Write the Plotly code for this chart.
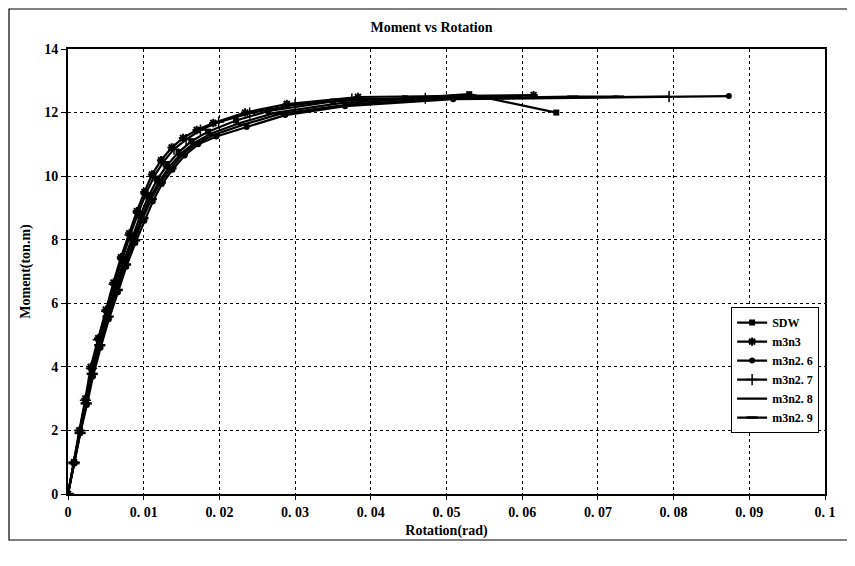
import plotly.graph_objects as go

# ---- data ----
sdw_x = [0, 0.0008, 0.0016, 0.0024, 0.0031, 0.0041, 0.0052, 0.0063, 0.0074, 0.0085, 0.0096, 0.0107,
         0.0118, 0.0131, 0.0146, 0.0163, 0.0185, 0.0222, 0.0265, 0.035, 0.0445, 0.053, 0.0645]
sdw_y = [0, 1.0, 2.0, 2.95, 3.95, 4.8, 5.7, 6.55, 7.35, 8.1, 8.8, 9.4,
         9.9, 10.35, 10.75, 11.1, 11.4, 11.75, 12.05, 12.35, 12.45, 12.58, 12.0]

m3n3_x = [0, 0.0008, 0.0015, 0.0023, 0.003, 0.004, 0.005, 0.006, 0.007, 0.0081, 0.0091, 0.0101,
          0.0111, 0.0123, 0.0137, 0.0152, 0.017, 0.0192, 0.0234, 0.0289, 0.0383, 0.0615]
m3n3_y = [0, 1.0, 2.0, 3.0, 4.0, 4.9, 5.8, 6.65, 7.45, 8.2, 8.9, 9.5,
          10.05, 10.5, 10.9, 11.2, 11.45, 11.67, 12.0, 12.27, 12.49, 12.55]

m3n26_x = [0, 0.0008, 0.0016, 0.0025, 0.0033, 0.0043, 0.0054, 0.0066, 0.0077, 0.0089, 0.0101, 0.0112,
           0.0124, 0.0138, 0.0154, 0.0172, 0.0196, 0.0236, 0.0287, 0.0366, 0.0509, 0.0873]
m3n26_y = [0, 0.95, 1.9, 2.8, 3.7, 4.6, 5.5, 6.35, 7.15, 7.9, 8.6, 9.2,
           9.75, 10.2, 10.65, 11.0, 11.25, 11.55, 11.92, 12.2, 12.42, 12.52]

m3n27_x = [0, 0.0008, 0.0016, 0.0023, 0.0031, 0.004, 0.0051, 0.0061, 0.0072, 0.0082, 0.0093, 0.0103,
           0.0114, 0.0126, 0.014, 0.0156, 0.0175, 0.0199, 0.024, 0.03, 0.0375, 0.0472, 0.0794]
m3n27_y = [0, 1.0, 2.0, 2.95, 3.95, 4.85, 5.75, 6.6, 7.4, 8.15, 8.85, 9.45,
           10.0, 10.45, 10.85, 11.15, 11.45, 11.7, 11.98, 12.25, 12.42, 12.45, 12.5]

m3n28_x = [0, 0.0008, 0.0016, 0.0024, 0.0032, 0.0042, 0.0053, 0.0064, 0.0075, 0.0087, 0.0098, 0.0109,
           0.0121, 0.0134, 0.0149, 0.0167, 0.019, 0.0228, 0.0275, 0.036, 0.047, 0.06]
m3n28_y = [0, 0.98, 1.95, 2.9, 3.85, 4.75, 5.65, 6.5, 7.3, 8.05, 8.75, 9.35,
           9.85, 10.3, 10.7, 11.05, 11.35, 11.68, 12.0, 12.3, 12.45, 12.5]

m3n29_x = [0, 0.0008, 0.0016, 0.0024, 0.0032, 0.0042, 0.0053, 0.0065, 0.0076, 0.0088, 0.0099, 0.011,
           0.0122, 0.0136, 0.0151, 0.0169, 0.0193, 0.0232, 0.028, 0.037, 0.05, 0.0667, 0.0727]
m3n29_y = [0, 0.97, 1.92, 2.85, 3.78, 4.68, 5.58, 6.42, 7.22, 7.98, 8.68, 9.28,
           9.8, 10.25, 10.68, 11.02, 11.3, 11.62, 11.96, 12.25, 12.45, 12.5, 12.5]

x_ticks = [0, 0.01, 0.02, 0.03, 0.04, 0.05, 0.06, 0.07, 0.08, 0.09, 0.1]
x_tick_labels = ["0", "0. 01", "0. 02", "0. 03", "0. 04", "0. 05", "0. 06", "0. 07", "0. 08", "0. 09", "0. 1"]
y_ticks = [0, 2, 4, 6, 8, 10, 12, 14]

series = [
    ("SDW", sdw_x, sdw_y, dict(symbol="square", size=6)),
    ("m3n3", m3n3_x, m3n3_y, dict(symbol="asterisk", size=7, line=dict(width=2, color="black"))),
    ("m3n2. 6", m3n26_x, m3n26_y, dict(symbol="circle", size=6)),
    ("m3n2. 7", m3n27_x, m3n27_y, dict(symbol="cross-thin", size=8, line=dict(width=1.5, color="black"))),
    ("m3n2. 8", m3n28_x, m3n28_y, None),
    ("m3n2. 9", m3n29_x, m3n29_y, dict(symbol="line-ew", size=8, line=dict(width=2.5, color="black"))),
]

FONT = "Liberation Serif"
W, H = 847, 558
L, R, T, B = 60, 30, 41, 72
PW, PH = W - L - R, H - T - B

fig = go.Figure()
for name, xs, ys, mk in series:
    if mk is None:
        fig.add_trace(go.Scatter(x=xs, y=ys, name=name, mode="lines",
                                 line=dict(color="black", width=2.2)))
    else:
        m = dict(color="black")
        m.update(mk)
        fig.add_trace(go.Scatter(x=xs, y=ys, name=name, mode="lines+markers",
                                 line=dict(color="black", width=2.2), marker=m))

fig.update_layout(
    width=W, height=H,
    paper_bgcolor="white", plot_bgcolor="white",
    margin=dict(l=L, r=R, t=T, b=B, autoexpand=False),
    font=dict(family=FONT, size=14, color="black", weight="bold"),
    title=dict(text="Moment vs Rotation", x=0.5, xanchor="center", y=1 - 19 / H, yanchor="middle",
               font=dict(family=FONT, size=14, weight="bold")),
    showlegend=True,
    legend=dict(x=0.876, y=0.42, xanchor="left", yanchor="top",
                bgcolor="white", bordercolor="black", borderwidth=1,
                font=dict(family=FONT, size=12, weight="bold"),
                tracegroupgap=0, itemwidth=30),
    shapes=[dict(type="rect", xref="paper", yref="paper",
                 x0=-(L - 1) / PW, x1=(W - 5 - L) / PW, y0=-(H - 26 - (T + PH)) / PH, y1=(T - 1) / PH + 1,
                 line=dict(color="black", width=1.2), fillcolor="rgba(0,0,0,0)", layer="below")],
)

fig.update_xaxes(
    range=[0, 0.1], tickvals=x_ticks, ticktext=x_tick_labels, automargin=False,
    showgrid=True, gridcolor="black", griddash="dot", gridwidth=1,
    showline=True, linecolor="black", linewidth=2, mirror=True,
    ticks="outside", ticklen=4, tickcolor="black",
    zeroline=False,
    title=dict(text="Rotation(rad)", standoff=6, font=dict(family=FONT, size=14, weight="bold")),
)
fig.update_yaxes(
    range=[0, 14], tickvals=y_ticks, automargin=False,
    showgrid=True, gridcolor="black", griddash="dot", gridwidth=1,
    showline=True, linecolor="black", linewidth=2, mirror=True,
    ticks="outside", ticklen=5, tickcolor="black",
    zeroline=False,
    title=dict(text="Moment(ton.m)", standoff=10, font=dict(family=FONT, size=14, weight="bold")),
)

fig.write_html("out.html")
